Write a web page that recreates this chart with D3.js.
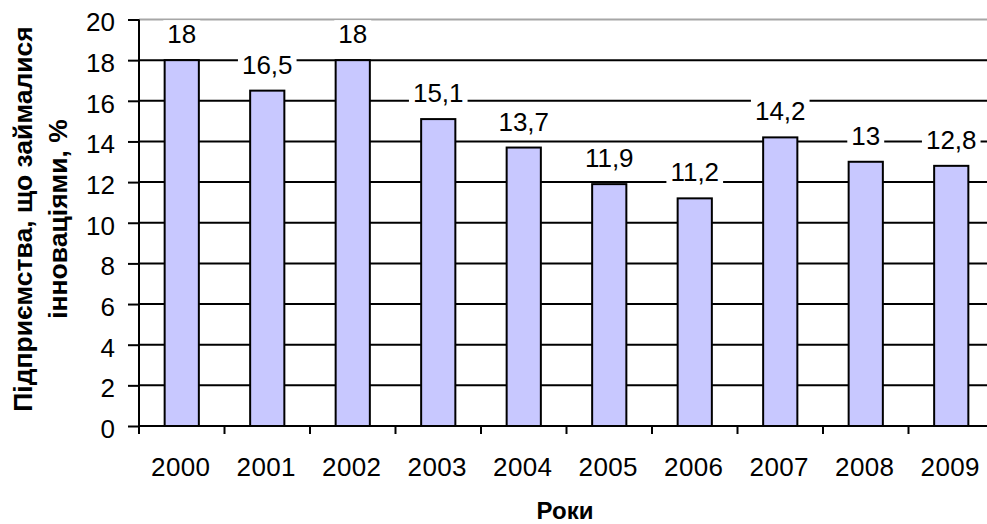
<!DOCTYPE html>
<html>
<head>
<meta charset="utf-8">
<script src="https://cdn.jsdelivr.net/npm/d3@7"></script>
<style>
  html, body { margin: 0; padding: 0; background: #fff; }
  svg { display: block; font-family: "Liberation Sans", Arial, sans-serif; }
</style>
</head>
<body>
<svg id="chart" width="987" height="524"></svg>
<script>
// Share of enterprises engaged in innovation, by year
const years = ["2000", "2001", "2002", "2003", "2004", "2005", "2006", "2007", "2008", "2009"];
const shares = [18, 16.5, 18, 15.1, 13.7, 11.9, 11.2, 14.2, 13, 12.8];
const valueLabels = ["18", "16,5", "18", "15,1", "13,7", "11,9", "11,2", "14,2", "13", "12,8"];
const yTicks = [0, 2, 4, 6, 8, 10, 12, 14, 16, 18, 20];
const yTitleLines = ["Підприємства, що займалися", "інноваціями, %"];
const xTitle = "Роки";

const svg = d3.select("#chart");
const plotLeft = 139, plotRight = 994, plotTop = 19.5, plotBottom = 426;
const fontSize = 26;

const x = d3.scaleBand().domain(years).range([plotLeft, plotRight]).padding(0);
const y = d3.scaleLinear().domain([0, 20]).range([plotBottom, plotTop]);
const barW = x.step() * 0.4;

// gridlines
svg.append("g").selectAll("line")
  .data(yTicks.filter(t => t > 0))
  .join("line")
  .attr("x1", plotLeft).attr("x2", plotRight)
  .attr("y1", d => y(d)).attr("y2", d => y(d))
  .attr("stroke", d => d === 20 ? "#a6a6a6" : "#000")
  .attr("stroke-width", 2);

// bars
svg.append("g").selectAll("rect")
  .data(years)
  .join("rect")
  .attr("x", (d) => x(d) + (x.step() - barW) / 2)
  .attr("width", barW)
  .attr("y", (d, i) => y(shares[i]))
  .attr("height", (d, i) => y(0) - y(shares[i]))
  .attr("fill", "#c8c8ff")
  .attr("stroke", "#000")
  .attr("stroke-width", 2);

// y axis
const yAxis = d3.axisLeft(y).tickValues(yTicks).tickSize(11).tickPadding(6).tickFormat(d3.format("d"));
const gy = svg.append("g").attr("transform", `translate(${plotLeft},0)`).call(yAxis);
gy.select(".domain").attr("stroke", "#000").attr("stroke-width", 2).attr("d", `M0,${plotBottom}V${plotTop}`);
gy.selectAll(".tick line").attr("stroke", "#000").attr("stroke-width", 2);
gy.selectAll(".tick text")
  .attr("font-size", fontSize).attr("fill", "#000")
  .attr("dy", "0.44em").attr("x", -24).attr("font-family", "Liberation Sans, Arial, sans-serif");

// x axis: ticks at category boundaries
const gx = svg.append("g").attr("transform", `translate(0,${plotBottom})`);
gx.append("line").attr("x1", plotLeft).attr("x2", plotRight).attr("stroke", "#000").attr("stroke-width", 2);
const boundaries = years.map(d => x(d));
gx.selectAll("line.tk").data(boundaries).join("line").attr("class", "tk")
  .attr("x1", d => d).attr("x2", d => d).attr("y1", 0).attr("y2", 8)
  .attr("stroke", "#000").attr("stroke-width", 2);
gx.selectAll("text").data(years).join("text")
  .attr("x", d => x(d) + x.step() / 2 - 1)
  .attr("y", 50)
  .attr("text-anchor", "middle")
  .attr("font-size", fontSize)
  .attr("letter-spacing", 0.4)
  .text(d => d);

// value labels with white backing
const lbl = svg.append("g").selectAll("g").data(years).join("g")
  .attr("transform", (d, i) => `translate(${x(d) + x.step() / 2},${y(shares[i]) - 17})`);
lbl.append("rect");
lbl.append("text")
  .attr("text-anchor", "middle")
  .attr("font-size", fontSize)
  .text((d, i) => valueLabels[i]);
lbl.each(function() {
  const g = d3.select(this);
  const bb = g.select("text").node().getBBox();
  g.select("rect")
    .attr("x", bb.x - 4).attr("y", bb.y + 1)
    .attr("width", bb.width + 8).attr("height", bb.height)
    .attr("fill", "#fff");
});

// axis titles
svg.append("text")
  .attr("x", 565).attr("y", 519)
  .attr("text-anchor", "middle")
  .attr("font-size", 24).attr("font-weight", "bold")
  .text(xTitle);

const yt = svg.append("text")
  .attr("transform", "translate(0,219) rotate(-90)")
  .attr("text-anchor", "middle")
  .attr("font-size", 26.5).attr("font-weight", "bold");
yt.selectAll("tspan").data(yTitleLines).join("tspan")
  .attr("x", 0)
  .attr("y", (d, i) => 32 + i * 35)
  .text(d => d);
</script>
</body>
</html>
